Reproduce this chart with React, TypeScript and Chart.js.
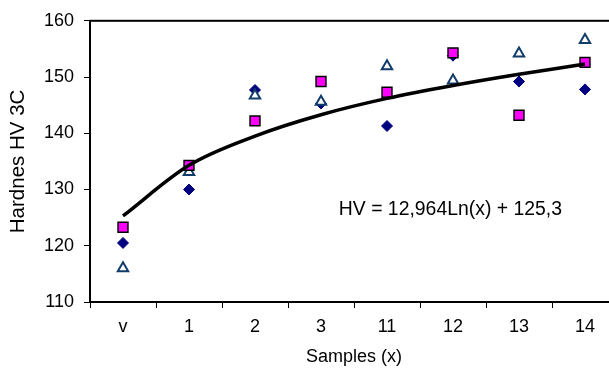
import React, { useEffect, useRef } from "react";
import { Chart, registerables } from "chart.js";

Chart.register(...registerables);

const categories = ["v", "1", "2", "3", "11", "12", "13", "14"];
const diamondValues = [120.5, 130.0, 147.7, 145.3, 141.3, 153.8, 149.2, 147.8];
const squareValues = [123.3, 134.3, 142.2, 149.2, 147.3, 154.3, 143.2, 152.6];
const triangleValues = [116.0, 133.1, 146.7, 145.6, 151.9, 149.4, 154.2, 156.6];
const trendValues = [125.3, 134.3, 139.5, 143.3, 146.2, 148.5, 150.5, 152.3];
const equationText = "HV = 12,964Ln(x) + 125,3";
const yTitle = "Hardnes HV 3C";
const xTitle = "Samples (x)";
const yMin = 110;
const yMax = 160;
const yStep = 10;

const FONT = "'Liberation Sans', Arial, sans-serif";

const frame = {
  id: "frame",
  beforeDatasetsDraw(chart: any) {
    const { ctx, chartArea } = chart;
    ctx.save();
    ctx.strokeStyle = "#000";
    ctx.lineWidth = 2;
    ctx.strokeRect(chartArea.left, chartArea.top, chartArea.right - chartArea.left, chartArea.bottom - chartArea.top);
    ctx.restore();
  },
};

const equation = {
  id: "equation",
  afterDatasetsDraw(chart: any) {
    const { ctx, scales } = chart;
    const x = scales.x.getPixelForValue(3.27);
    const y = scales.y.getPixelForValue(126.5);
    ctx.save();
    ctx.font = `19.4px ${FONT}`;
    ctx.fillStyle = "#000";
    ctx.textAlign = "left";
    ctx.textBaseline = "middle";
    ctx.fillText(equationText, x, y);
    ctx.restore();
  },
};

export default function App() {
  const ref = useRef<HTMLCanvasElement>(null);
  useEffect(() => {
    if (!ref.current) return;
    const chart = new Chart(ref.current, {
      type: "line",
      data: {
        labels: categories,
        datasets: [
          {
            label: "trend",
            data: trendValues,
            borderColor: "#000",
            borderWidth: 3.5,
            pointRadius: 0,
            cubicInterpolationMode: "monotone",
            fill: false,
          },
          {
            label: "squares",
            data: squareValues,
            showLine: false,
            pointStyle: "rect",
            pointRadius: 7,
            pointBackgroundColor: "#FF00FF",
            pointBorderColor: "#000",
            pointBorderWidth: 1.5,
          },
          {
            label: "triangles",
            data: triangleValues,
            showLine: false,
            pointStyle: "triangle",
            pointRadius: 6,
            pointBackgroundColor: "#fff",
            pointBorderColor: "#123D6B",
            pointBorderWidth: 2,
          },
          {
            label: "diamonds",
            data: diamondValues,
            showLine: false,
            pointStyle: "rectRot",
            pointRadius: 5.5,
            pointBackgroundColor: "#000080",
            pointBorderColor: "#000080",
            pointBorderWidth: 1,
          },
        ],
      } as any,
      options: {
        responsive: false,
        animation: false,
        devicePixelRatio: 1,
        layout: { padding: { top: 20, right: 22, left: 0, bottom: 0 } },
        plugins: { legend: { display: false }, tooltip: { enabled: false } },
        scales: {
          x: {
            type: "category",
            offset: true,
            grid: { offset: true, drawOnChartArea: false, tickLength: 6, color: "#000", lineWidth: 1 },
            border: { color: "#000", width: 2 },
            ticks: { font: { family: FONT, size: 18 }, color: "#000", padding: 8, maxRotation: 0, autoSkip: false },
            title: { display: true, text: xTitle, font: { family: FONT, size: 18 }, color: "#000", padding: { top: 4, bottom: 15 } },
            afterFit: (s: any) => { s.height = 81; },
          },
          y: {
            min: yMin,
            max: yMax,
            grid: { drawOnChartArea: false, tickLength: 6, color: "#000", lineWidth: 1 },
            border: { color: "#000", width: 2 },
            ticks: { stepSize: yStep, font: { family: FONT, size: 18 }, color: "#000", padding: 10 },
            title: { display: true, text: yTitle, font: { family: FONT, size: 20.5 }, color: "#000", padding: { top: 6, bottom: 0 } },
            afterFit: (s: any) => { s.width = 90; },
          },
        },
      } as any,
      plugins: [frame, equation],
    });
    return () => chart.destroy();
  }, []);
  return (
    <div style={{ position: "fixed", left: 0, top: 0, width: 609, height: 383, overflow: "hidden", background: "#fff" }}>
      <canvas ref={ref} width={640} height={383} style={{ width: 640, height: 383, display: "block" }} />
    </div>
  );
}
